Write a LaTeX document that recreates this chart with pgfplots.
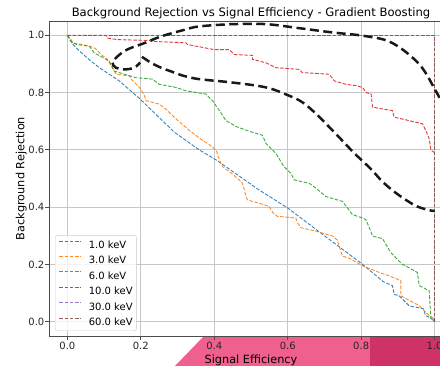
\documentclass[border=0pt]{standalone}
\usepackage{pgfplots}
\pgfplotsset{compat=1.18}
\usepackage{fontspec}
\setmainfont{DejaVu Sans}
\definecolor{c1}{HTML}{1F77B4}
\definecolor{c2}{HTML}{FF7F0E}
\definecolor{c3}{HTML}{2CA02C}
\definecolor{c4}{HTML}{D62728}
\definecolor{c5}{HTML}{9467BD}
\definecolor{c6}{HTML}{8C564B}
\definecolor{pinkA}{RGB}{239,96,142}
\definecolor{pinkB}{RGB}{207,50,102}
\begin{document}
\begin{tikzpicture}
\path[use as bounding box] (-49pt,-29pt) rectangle (391pt,336pt);
\clip (-49pt,-29pt) rectangle (391pt,336pt);
\fill[pinkA] (126pt,-30pt) -- (155pt,0pt) -- (392pt,0pt) -- (392pt,-30pt) -- cycle;
\fill[pinkB] (321pt,-30pt) rectangle (392pt,0pt);
\begin{axis}[
  at={(0pt,0pt)}, anchor=south west,
  scale only axis, width=404pt, height=315pt,
  xmin=-0.05, xmax=1.05, ymin=-0.05, ymax=1.05,
  xtick={0,0.2,0.4,0.6,0.8,1.0}, ytick={0,0.2,0.4,0.6,0.8,1.0},
  /pgf/number format/.cd, fixed, fixed zerofill, precision=1, assume math mode=true, /pgfplots/.cd,
  tick label style={font=\fontsize{10}{12}\selectfont, text=black!85},
  xticklabel style={inner sep=0pt, yshift=-2.5pt},
  yticklabel style={inner sep=0pt, xshift=-1pt},
  tick align=outside, tick pos=left, major tick length=3.5pt,
  tick style={black!70, line width=0.8pt},
  axis line style={black!70, line width=0.8pt},
  grid=major, major grid style={black!22, line width=0.8pt},
  title={Background Rejection vs Signal Efficiency - Gradient Boosting},
  every axis title shift=0pt,
  title style={font=\fontsize{11.6}{13}\selectfont, at={(0.5,1)}, anchor=base, yshift=4.5pt, inner sep=0pt},
  xlabel={Signal Efficiency},
  ylabel={Background Rejection},
  label style={font=\fontsize{11.3}{13}\selectfont},
  xlabel style={inner sep=0pt, yshift=-5pt},
  ylabel style={inner sep=0pt, yshift=1.5pt},
  legend style={at={(0.0149,0.0159)}, anchor=south west, draw=black!20, rounded corners=2pt,
    fill=white, fill opacity=0.8, text opacity=1, font=\fontsize{10}{12}\selectfont,
    inner xsep=3.7pt, inner ysep=5.2pt, row sep=7.7pt, column sep=8pt,
    nodes={inner sep=0pt, text height=7.3pt, text depth=0pt}},
  legend cell align=left,
  legend image code/.code={\draw[#1] (0pt,3.65pt) -- (21pt,3.65pt);},
  every axis plot/.append style={line width=0.9pt, dash pattern=on 3.6pt off 1.6pt},
]
\addplot[c1, opacity=0.9] coordinates {(0,1) (0.015,0.968) (0.033,0.945) (0.064,0.91) (0.087,0.887) (0.141,0.841) (0.196,0.78) (0.291,0.662) (0.359,0.6) (0.405,0.565) (0.522,0.46) (0.6,0.397) (0.7,0.3) (0.804,0.2) (0.86,0.14) (0.885,0.126) (0.89,0.095) (0.903,0.091) (0.931,0.055) (0.97,0.045) (0.975,0.022) (1.0,0.005) (1,0)};
\addlegendentry{1.0 keV}
\addplot[c2, opacity=0.9] coordinates {(0,1) (0.01,0.985) (0.015,0.973) (0.04,0.968) (0.06,0.962) (0.075,0.955) (0.092,0.933) (0.11,0.915) (0.125,0.88) (0.133,0.864) (0.169,0.858) (0.175,0.845) (0.196,0.818) (0.205,0.80) (0.21,0.789) (0.214,0.772) (0.25,0.76) (0.27,0.74) (0.296,0.708) (0.33,0.67) (0.368,0.633) (0.385,0.62) (0.405,0.599) (0.41,0.58) (0.418,0.553) (0.423,0.541) (0.45,0.515) (0.468,0.495) (0.477,0.483) (0.486,0.44) (0.49,0.426) (0.504,0.42) (0.522,0.414) (0.55,0.402) (0.56,0.38) (0.572,0.368) (0.622,0.362) (0.627,0.345) (0.636,0.328) (0.677,0.316) (0.722,0.299) (0.735,0.285) (0.74,0.264) (0.749,0.229) (0.77,0.22) (0.804,0.195) (0.849,0.172) (0.876,0.16) (0.908,0.143) (0.908,0.091) (0.93,0.075) (0.958,0.056) (0.97,0.04) (0.985,0.022) (1.0,0.01) (1,0)};
\addlegendentry{3.0 keV}
\addplot[c3, opacity=0.9] coordinates {(0,1) (0.01,0.979) (0.024,0.968) (0.06,0.962) (0.073,0.939) (0.1,0.92) (0.114,0.91) (0.128,0.875) (0.187,0.852) (0.232,0.847) (0.25,0.829) (0.296,0.818) (0.323,0.806) (0.377,0.795) (0.395,0.772) (0.414,0.737) (0.432,0.702) (0.459,0.682) (0.495,0.665) (0.531,0.651) (0.541,0.622) (0.568,0.587) (0.59,0.541) (0.609,0.518) (0.618,0.495) (0.659,0.483) (0.677,0.466) (0.704,0.437) (0.749,0.42) (0.763,0.397) (0.776,0.374) (0.804,0.362) (0.813,0.356) (0.826,0.316) (0.831,0.299) (0.858,0.29) (0.881,0.241) (0.912,0.2) (0.921,0.195) (0.953,0.172) (0.958,0.126) (0.985,0.108) (0.99,0.01) (1,0)};
\addlegendentry{6.0 keV}
\addplot[c4, opacity=0.9] coordinates {(0,1) (0.105,1) (0.11,0.99) (0.136,0.985) (0.223,0.982) (0.228,0.979) (0.323,0.974) (0.327,0.968) (0.4,0.95) (0.441,0.95) (0.454,0.933) (0.504,0.93) (0.504,0.916) (0.541,0.904) (0.568,0.887) (0.631,0.881) (0.64,0.87) (0.713,0.864) (0.727,0.841) (0.758,0.829) (0.786,0.824) (0.804,0.818) (0.813,0.8) (0.827,0.795) (0.831,0.749) (0.885,0.737) (0.89,0.714) (0.931,0.702) (0.967,0.691) (0.976,0.668) (0.985,0.639) (0.99,0.599) (1.0,0.59)};
\addlegendentry{10.0 keV}
\addplot[c5, opacity=0.9] coordinates {(0,1) (1,1) (1,0)};
\addlegendentry{30.0 keV}
\addplot[c6, opacity=0.9] coordinates {(0,1) (1,1) (1,0)};
\addlegendentry{60.0 keV}
\addplot[forget plot, black!90, line width=2.5pt, dash pattern=on 9pt off 4.5pt, smooth, tension=0.6] coordinates {(1.03,0.74) (1.003,0.806) (0.958,0.899) (0.885,0.973) (0.813,0.997) (0.722,1.01) (0.631,1.025) (0.541,1.039) (0.45,1.039) (0.359,1.031) (0.318,1.019) (0.255,0.996) (0.21,0.973) (0.164,0.951) (0.137,0.927) (0.123,0.905) (0.132,0.887) (0.155,0.881) (0.182,0.887) (0.198,0.905)};
\addplot[forget plot, black!90, line width=2.5pt, dash pattern=on 9pt off 4.5pt, smooth, tension=0.6] coordinates {(0.203,0.925) (0.228,0.904) (0.255,0.887) (0.291,0.87) (0.318,0.858) (0.359,0.847) (0.45,0.835) (0.541,0.818) (0.604,0.789) (0.64,0.766) (0.677,0.726) (0.731,0.656) (0.78,0.59) (0.825,0.535) (0.858,0.489) (0.89,0.454) (0.921,0.426) (0.953,0.402) (0.99,0.388) (1.0,0.387)};
\end{axis}
\end{tikzpicture}
\end{document}
